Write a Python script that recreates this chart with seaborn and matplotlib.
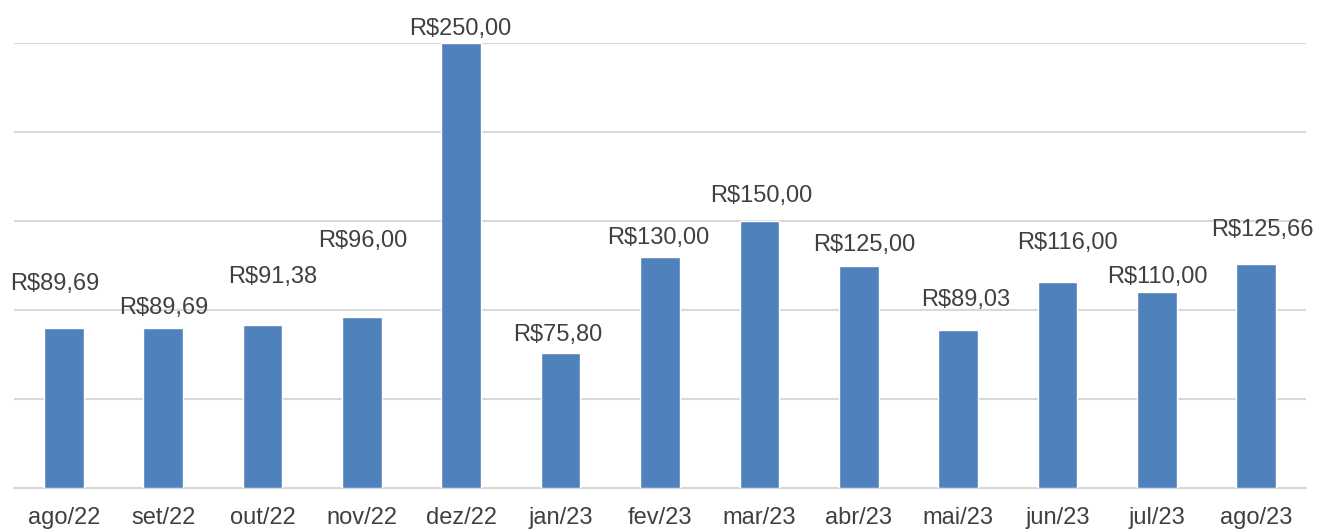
import matplotlib
matplotlib.use("Agg")
import matplotlib.pyplot as plt
import seaborn as sns
import pandas as pd

months = ["ago/22", "set/22", "out/22", "nov/22", "dez/22", "jan/23", "fev/23",
          "mar/23", "abr/23", "mai/23", "jun/23", "jul/23", "ago/23"]
values = [89.69, 89.69, 91.38, 96.00, 250.00, 75.80, 130.00,
          150.00, 125.00, 89.03, 116.00, 110.00, 125.66]

# manual label nudges (pixels: dx, dy above bar top), like hand-placed Excel labels
label_nudges = [(-9, 44), (1, 20), (10, 48), (1, 76), (-1, 14), (-3, 18), (-2, 19),
                (2, 25), (5, 21), (8, 30), (10, 39), (0, 15), (6, 34)]

sns.set_theme(style="white")
plt.rcParams['font.family'] = ['Liberation Sans', 'DejaVu Sans']

df = pd.DataFrame({"Mes": months, "Valor": values})

W, H = 1317, 529
fig = plt.figure(figsize=(W / 100, H / 100), dpi=100)
ax = fig.add_axes([14 / W, 1 - 488 / H, (1306 - 14) / W, (488 - 43) / H])

sns.barplot(data=df, x="Mes", y="Valor", color="#4F81BD", saturation=1,
            width=0.4, ax=ax, zorder=3)

ax.set_ylim(0, 250)
ax.set_xlim(-0.5, len(months) - 0.5)
ax.set_yticks([0, 50, 100, 150, 200, 250])
ax.yaxis.grid(True, color="#D9D9D9", linewidth=1.5, zorder=0)
ax.tick_params(axis="y", left=False, labelleft=False)
ax.tick_params(axis="x", bottom=False, labelsize=17, labelcolor="#404040", pad=8)
for s in ["top", "right", "left"]:
    ax.spines[s].set_visible(False)
ax.spines["bottom"].set_color("#D9D9D9")
ax.spines["bottom"].set_linewidth(1.5)
ax.set_xlabel("")
ax.set_ylabel("")

for i, (v, (dx, dy)) in enumerate(zip(values, label_nudges)):
    txt = "R$" + f"{v:.2f}".replace(".", ",")
    ax.annotate(txt, xy=(i, v), xytext=(dx * 0.72, dy * 0.72),
                textcoords="offset points", ha="center", va="center",
                fontsize=17, color="#404040", annotation_clip=False)

fig.savefig("out.png", dpi=100)
